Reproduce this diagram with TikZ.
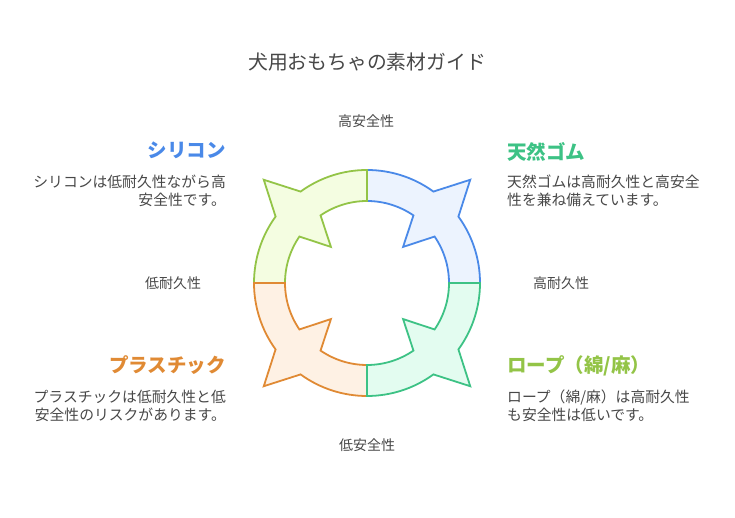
\documentclass[tikz,border=0pt]{standalone}
\usepackage{fontspec}
\setmainfont{Noto Sans CJK JP}
\usepackage{tikz}

\definecolor{segblue}{HTML}{4A89E8}
\definecolor{segbluefill}{HTML}{ECF3FE}
\definecolor{seglime}{HTML}{93C447}
\definecolor{seglimefill}{HTML}{F4FDE1}
\definecolor{segorange}{HTML}{E08A34}
\definecolor{segorangefill}{HTML}{FEF1E4}
\definecolor{segteal}{HTML}{3DC285}
\definecolor{segtealfill}{HTML}{E3FCF0}
\definecolor{textgray}{HTML}{474747}

\begin{document}
\begin{tikzpicture}[x=1pt,y=1pt,
    seg/.style={line width=1.8pt,line join=miter},
    axislabel/.style={inner sep=0pt,text=textgray,font=\fontsize{14pt}{16pt}\selectfont},
    headlabel/.style={inner sep=0pt,font=\fontsize{19.5pt}{22pt}\selectfont\bfseries},
    desclabel/.style={inner sep=0pt,text=textgray,font=\fontsize{14.8pt}{18pt}\selectfont}]
        \useasboundingbox (0,0) rectangle (735,518);
        \coordinate (c) at (367,235);
        % upper right
        \filldraw [seg,draw=segblue,fill=segbluefill] ([shift={(c)}]90:113pt) arc[start angle=90,end angle=54,radius=113pt]
            -- ([shift={(c)}]45:146pt) -- ([shift={(c)}]36:113pt) arc[start angle=36,end angle=0,radius=113pt]
            -- ([shift={(c)}]0:82pt) arc[start angle=0,end angle=34.5,radius=82pt]
            -- ([shift={(c)}]45:51pt) -- ([shift={(c)}]55.5:82pt) arc[start angle=55.5,end angle=90,radius=82pt] -- cycle;
        % upper left
        \filldraw [seg,draw=seglime,fill=seglimefill] ([shift={(c)}]90:113pt) arc[start angle=90,end angle=126,radius=113pt]
            -- ([shift={(c)}]135:146pt) -- ([shift={(c)}]144:113pt) arc[start angle=144,end angle=180,radius=113pt]
            -- ([shift={(c)}]180:82pt) arc[start angle=180,end angle=145.5,radius=82pt]
            -- ([shift={(c)}]135:51pt) -- ([shift={(c)}]124.5:82pt) arc[start angle=124.5,end angle=90,radius=82pt] -- cycle;
        % lower left
        \filldraw [seg,draw=segorange,fill=segorangefill] ([shift={(c)}]270:113pt) arc[start angle=270,end angle=234,radius=113pt]
            -- ([shift={(c)}]225:146pt) -- ([shift={(c)}]216:113pt) arc[start angle=216,end angle=180,radius=113pt]
            -- ([shift={(c)}]180:82pt) arc[start angle=180,end angle=214.5,radius=82pt]
            -- ([shift={(c)}]225:51pt) -- ([shift={(c)}]235.5:82pt) arc[start angle=235.5,end angle=270,radius=82pt] -- cycle;
        % lower right
        \filldraw [seg,draw=segteal,fill=segtealfill] ([shift={(c)}]270:113pt) arc[start angle=270,end angle=306,radius=113pt]
            -- ([shift={(c)}]315:146pt) -- ([shift={(c)}]324:113pt) arc[start angle=324,end angle=360,radius=113pt]
            -- ([shift={(c)}]0:82pt) arc[start angle=360,end angle=325.5,radius=82pt]
            -- ([shift={(c)}]315:51pt) -- ([shift={(c)}]304.5:82pt) arc[start angle=304.5,end angle=270,radius=82pt] -- cycle;
        \node (title) [inner sep=0pt,text=textgray,font=\fontsize{19.8pt}{22pt}\selectfont] at (367,456) {犬用おもちゃの素材ガイド};
        \node (highsafe) [axislabel] at (366,397) {高安全性};
        \node (highdur) [axislabel] at (561,235) {高耐久性};
        \node (lowdur) [axislabel] at (173,235) {低耐久性};
        \node (lowsafe) [axislabel] at (367,73) {低安全性};
        \node (silicone) [headlabel,text=segblue,anchor=east] at (226,368) {シリコン};
        \node (siliconetext) [desclabel,align=right,anchor=north east] at (226,343) {シリコンは低耐久性ながら高\\安全性です。};
        \node (rubber) [headlabel,text=segteal,anchor=west] at (507,366) {天然ゴム};
        \node (rubbertext) [desclabel,align=left,anchor=north west] at (507,343) {天然ゴムは高耐久性と高安全\\性を兼ね備えています。};
        \node (plastic) [headlabel,text=segorange,anchor=east] at (226,153) {プラスチック};
        \node (plastictext) [desclabel,align=right,anchor=north east] at (226,128) {プラスチックは低耐久性と低\\安全性のリスクがあります。};
        \node (rope) [headlabel,text=seglime,anchor=west] at (507,152) {ロープ（綿/麻）};
        \node (ropetext) [desclabel,align=left,anchor=north west] at (507,128) {ロープ（綿/麻）は高耐久性\\も安全性は低いです。};
      \end{tikzpicture}
\end{document}
